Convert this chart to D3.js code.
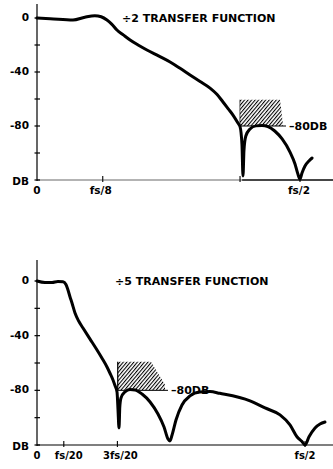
<!DOCTYPE html>
<html><head><meta charset="utf-8">
<script src="https://cdn.jsdelivr.net/npm/d3@7"></script>
<style>
html,body{margin:0;padding:0;background:#fff;}
text{font-family:"DejaVu Sans",sans-serif;font-weight:bold;fill:#000;}
</style></head>
<body>
<svg id="c" width="333" height="469"></svg>
<script>
// ---------- DATA ----------
// ÷2 transfer function (frequency as fraction of fs, magnitude in dB)
const topTitle = "÷2 TRANSFER FUNCTION";
const topFreq = [0,0.025,0.0684,0.091,0.110,0.122,0.133,0.142,0.152,0.164,0.177,0.193,0.209,0.231,0.253,0.272,0.291,0.310,0.329,0.342,0.3536,0.364,0.3726,0.382,0.386,0.3897,0.3916,0.3935,0.397,0.405,0.416,0.428,0.439,0.452,0.466,0.481,0.4905,0.496,0.5,0.5038,0.5095,0.517,0.523];
const topDb   = [0,-0.5,-1.5,0.6,1.7,0.9,-1.5,-4.5,-8.9,-12.5,-16.3,-20.2,-23.7,-28.1,-32.6,-37.3,-42.2,-47,-51.9,-56.5,-62.2,-67.5,-71.9,-77.8,-80.5,-94,-117,-97.8,-87.4,-82.2,-79.9,-79.6,-80.4,-83.7,-89.6,-99.3,-108.1,-115.6,-119.3,-114.8,-109.6,-105.9,-103.7];
const topTickFreq   = [0, 0.125, 0.386, 0.5];
const topTickLabels = ["0", "fs/8", "", "fs/2"];
const topMask = {f0:0.3857, f1:0.4677, dbTop:-60.5, dbRef:-80};

// ÷5 transfer function
const botTitle = "÷5 TRANSFER FUNCTION";
const botFreq = [0,0.0149,0.028,0.039,0.0485,0.054,0.0578,0.0615,0.0653,0.0709,0.078,0.0858,0.099,0.112,0.1213,0.1306,0.1362,0.1418,0.1455,0.1493,0.1511,0.153,0.1545,0.1567,0.164,0.1735,0.183,0.196,0.211,0.2257,0.237,0.2444,0.248,0.252,0.2593,0.2705,0.2854,0.304,0.3228,0.341,0.3974,0.4254,0.4534,0.472,0.485,0.4944,0.5,0.5075,0.5187,0.528,0.5373];
const botDb   = [0,-1.1,-1.1,-0.3,-0.5,-2.5,-6.6,-11.5,-16.1,-23.4,-29.5,-34.4,-42.5,-50.5,-56.5,-62.9,-67.5,-72.4,-76.5,-81.2,-94,-107.5,-92,-85.6,-81.2,-79.4,-79.7,-82.7,-88.5,-97.3,-106.8,-115.6,-117,-112.7,-101.7,-90.7,-84.1,-81.2,-80.9,-82.2,-87.7,-92.9,-98,-105.3,-114,-117.5,-120,-114,-107.5,-104.6,-103.2];
const botTickFreq   = [0, 0.05, 0.15, 0.5];
const botTickLabels = ["0", "fs/20", "3fs/20", "fs/2"];
const botMask = {f0:0.1506, f1:0.2388, dbTop:-59, dbRef:-80};

const yTickValues = [0,-20,-40,-60,-80,-100,-120];
const yTickLabels = {"0":"0","-40":"-40","-80":"-80","-120":"DB"};
const maskLabel = "–80DB";

// ---------- LAYOUT ----------
const svg = d3.select("#c");
const defs = svg.append("defs");
const pat = defs.append("pattern").attr("id","hatch").attr("patternUnits","userSpaceOnUse")
  .attr("width",2.7).attr("height",2.7).attr("patternTransform","rotate(40)");
pat.append("line").attr("x1",0.5).attr("y1",0).attr("x2",0.5).attr("y2",2.7)
  .attr("stroke","#000").attr("stroke-width",1.1);

function panel(cfg){
  const x = d3.scaleLinear().domain([0,0.5]).range([37,cfg.xEnd]);
  const y = d3.scaleLinear().domain([0,-120]).range([cfg.y0,cfg.y120]);
  const g = svg.append("g");

  g.append("line").attr("x1",37).attr("x2",333).attr("y1",y(-120)).attr("y2",y(-120))
    .attr("stroke",cfg.axisColor).attr("stroke-width",1.5);
  if(cfg.darkFrom){
    g.append("line").attr("x1",x(cfg.darkFrom)).attr("x2",333).attr("y1",y(-120)).attr("y2",y(-120))
      .attr("stroke","#222").attr("stroke-width",1.4);
  }
  g.append("line").attr("x1",37).attr("x2",37).attr("y1",cfg.yAxisTop).attr("y2",y(-120)+1)
    .attr("stroke","#000").attr("stroke-width",1.2);

  g.selectAll(".yt").data(yTickValues).join("line")
    .attr("x1",34.5).attr("x2",40).attr("y1",d=>y(d)).attr("y2",d=>y(d))
    .attr("stroke","#000").attr("stroke-width",1.2);
  g.selectAll(".yl").data(yTickValues.filter(d=>yTickLabels[String(d)]!==undefined)).join("text")
    .attr("x",29).attr("y",d=>y(d)+(d===-120?5:3))
    .attr("text-anchor","end").attr("font-size",10.5)
    .text(d=>yTickLabels[String(d)]);

  g.selectAll(".xt").data(cfg.ticks.filter(d=>d>0)).join("line")
    .attr("x1",d=>x(d)).attr("x2",d=>x(d)).attr("y1",y(-120)-4).attr("y2",y(-120)+2)
    .attr("stroke","#000").attr("stroke-width",1.1);
  g.selectAll(".xl").data(cfg.ticks).join("text")
    .attr("x",(d,i)=>x(d)+cfg.labelDx[i]).attr("y",y(-120)+13.5)
    .attr("text-anchor","middle").attr("font-size",cfg.labelSize)
    .text((d,i)=>cfg.labels[i]);

  const m = cfg.mask;
  const mx0 = x(m.f0), mx1 = x(m.f1), myT = y(m.dbTop), myR = y(m.dbRef);
  g.append("polygon")
    .attr("points",[[mx0,myT],[mx1-cfg.cut,myT],[mx1,myR-cfg.cut*0.4],[mx1,myR],[mx0,myR]].map(p=>p.join(",")).join(" "))
    .attr("fill","url(#hatch)");
  g.append("line").attr("x1",mx0).attr("x2",mx0).attr("y1",myT).attr("y2",myR)
    .attr("stroke","#000").attr("stroke-width",cfg.leftBorder);
  g.append("line").attr("x1",mx0).attr("x2",mx1+cfg.refExt).attr("y1",myR).attr("y2",myR)
    .attr("stroke","#000").attr("stroke-width",1);
  g.append("text").attr("x",mx1+cfg.refExt+3).attr("y",myR+4)
    .attr("font-size",11).text(maskLabel);

  g.append("text").attr("x",cfg.titleX).attr("y",cfg.titleY).attr("font-size",11).text(cfg.title);

  const line = d3.line().x(d=>x(d[0])).y(d=>y(d[1])).curve(d3.curveMonotoneX);
  g.append("path").datum(cfg.freq.map((f,i)=>[f,cfg.db[i]]))
    .attr("d",line).attr("fill","none").attr("stroke","#000")
    .attr("stroke-width",3).attr("stroke-linejoin","round").attr("stroke-linecap","round");
}

panel({xEnd:300, y0:18, y120:180, yAxisTop:4, axisColor:"#9a9a9a", darkFrom:0.39,
  ticks:topTickFreq, labels:topTickLabels, labelDx:[0,-2,0,-1], labelSize:10.5,
  mask:topMask, cut:3, refExt:3, leftBorder:0.6,
  title:topTitle, titleX:122, titleY:21.5, freq:topFreq, db:topDb});

panel({xEnd:305, y0:281, y120:445, yAxisTop:260, axisColor:"#555", darkFrom:null,
  ticks:botTickFreq, labels:botTickLabels, labelDx:[0,5,3,0], labelSize:10,
  mask:botMask, cut:14, refExt:3, leftBorder:1.2,
  title:botTitle, titleX:115, titleY:285, freq:botFreq, db:botDb});
</script>
</body></html>
